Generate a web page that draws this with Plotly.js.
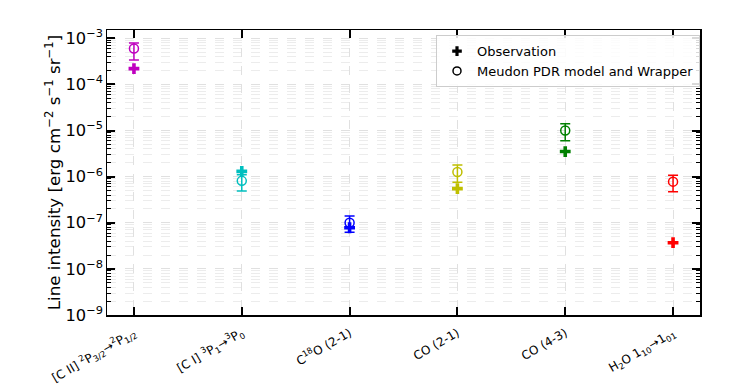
<!DOCTYPE html>
<html>
<head>
<meta charset="utf-8">
<script src="https://cdn.plot.ly/plotly-3.0.1.min.js"></script>
<style>
  html, body { margin: 0; padding: 0; background: #fff; }
  #chart { width: 738px; height: 384px; }
</style>
</head>
<body>
<div id="chart"></div>
<script>
  // Line labels, one per category on the x axis.
  var LINES = [
    "[C II] <sup>2</sup>P<sub>3/2</sub>→<sup>2</sup>P<sub>1/2</sub>",
    "[C I] <sup>3</sup>P<sub>1</sub>→<sup>3</sup>P<sub>0</sub>",
    "C<sup>18</sup>O (2-1)",
    "CO (2-1)",
    "CO (4-3)",
    "H<sub>2</sub>O 1<sub>10</sub>→1<sub>01</sub>"
  ];
  var COLORS = ["#bf00bf", "#00bfbf", "#0000ff", "#bfbf00", "#008000", "#ff0000"];

  // Intensities, erg cm^-2 s^-1 sr^-1.
  var OBS = [2.2e-4, 1.3e-6, 7.8e-8, 5.5e-7, 3.5e-6, 3.7e-8];
  var MODEL = [6.0e-4, 8.1e-7, 1.0e-7, 1.26e-6, 1.0e-5, 7.8e-7];
  var MODEL_HI = [7.9e-4, 1.1e-6, 1.4e-7, 1.78e-6, 1.4e-5, 1.07e-6];
  var MODEL_LO = [3.4e-4, 4.9e-7, 6.2e-8, 7.6e-7, 6.0e-6, 4.7e-7];

  var FONT = "DejaVu Sans, sans-serif";
  var GRID = "#e0e0e0";
  var GRID_MINOR = "#ececec";
  var LABEL_ANGLE = -30;
  var MARGIN = { l: 107, r: 38, t: 30, b: 69 };
  var H = 384;

  var idx = LINES.map(function (_, i) { return i; });
  var traces = [];

  // model points: one trace each so the error bar takes the point colour
  idx.forEach(function (i) {
    traces.push({
      type: "scatter",
      mode: "markers",
      x: [i],
      y: [MODEL[i]],
      showlegend: false,
      marker: { symbol: "circle-open", size: 9, color: COLORS[i], line: { width: 1.5, color: COLORS[i] } },
      error_y: {
        type: "data",
        symmetric: false,
        array: [MODEL_HI[i] - MODEL[i]],
        arrayminus: [MODEL[i] - MODEL_LO[i]],
        color: COLORS[i],
        thickness: 1.5,
        width: 5
      }
    });
  });

  traces.push({
    type: "scatter",
    mode: "markers",
    x: idx,
    y: OBS,
    showlegend: false,
    marker: { symbol: "cross", size: 9, color: COLORS, line: { width: 0 } }
  });

  // legend keys in black (placed off-range so they draw nothing on the plot)
  traces.push({
    type: "scatter", mode: "markers", name: "Observation",
    x: [-5], y: [1e-12],
    marker: { symbol: "cross", size: 8, color: "black" }
  });
  traces.push({
    type: "scatter", mode: "markers", name: "Meudon PDR model and Wrapper",
    x: [-5], y: [1e-12],
    marker: { symbol: "circle-open", size: 8, color: "black", line: { width: 1.5 } }
  });

  var layout = {
    width: 738,
    height: H,
    margin: MARGIN,
    paper_bgcolor: "#fff",
    plot_bgcolor: "#fff",
    font: { family: FONT, color: "#000", size: 12 },
    showlegend: true,
    legend: {
      x: 1, xanchor: "right",
      y: 0.982, yanchor: "top",
      bgcolor: "rgba(255,255,255,0.85)",
      bordercolor: "#cccccc",
      borderwidth: 1,
      font: { family: FONT, size: 13 },
      tracegroupgap: 0,
      itemwidth: 30
    },
    xaxis: {
      range: [-0.25, 5.25],
      tickmode: "array",
      tickvals: idx,
      ticktext: LINES,
      tickangle: LABEL_ANGLE,
      tickfont: { family: FONT, size: 12 },
      ticks: "inside",
      ticklen: 8,
      tickwidth: 2,
      tickcolor: "#000",
      showline: true,
      linecolor: "#000",
      linewidth: 1.5,
      mirror: "allticks",
      showgrid: true,
      gridcolor: GRID,
      griddash: "dash",
      gridwidth: 1,
      zeroline: false
    },
    yaxis: {
      type: "log",
      range: [-9, -2.82],
      dtick: 1,
      exponentformat: "power",
      tickfont: { family: FONT, size: 13 },
      ticks: "inside",
      ticklen: 8,
      tickwidth: 2,
      tickcolor: "#000",
      showline: true,
      linecolor: "#000",
      linewidth: 1.5,
      mirror: "allticks",
      showgrid: true,
      gridcolor: GRID,
      griddash: "dash",
      gridwidth: 1,
      zeroline: false,
      minor: {
        ticks: "inside",
        ticklen: 4,
        tickwidth: 1,
        tickcolor: "#000",
        showgrid: true,
        gridcolor: GRID_MINOR,
        gridwidth: 1
      },
      title: {
        text: "Line intensity [erg cm<sup>−2</sup> s<sup>−1</sup> sr<sup>−1</sup>]",
        font: { family: FONT, size: 16.7 },
        standoff: 0
      }
    }
  };

  var gd = document.getElementById("chart");

  // The x tick labels come out unrotated in this setup, so the rotation is
  // re-applied here (about the label anchor, like plotly does). Runs on timers
  // rather than only on the plot promise, in case that never settles.
  function fixTickLabels() {
    try {
      var yBase = H - MARGIN.b + 21;
      var texts = gd.querySelectorAll(".xtick text");
      Array.prototype.forEach.call(texts, function (t) {
        var x = parseFloat(t.getAttribute("x")) || 0;
        var tr = t.getAttribute("transform") || "";
        var base = tr.replace(/rotate\([^)]*\)/g, "").trim();
        var want = (base + " rotate(" + LABEL_ANGLE + "," + x + "," + (yBase - 6) + ")").trim();
        if (t.getAttribute("y") !== String(yBase)) t.setAttribute("y", yBase);
        if (t.getAttribute("text-anchor") !== "end") t.setAttribute("text-anchor", "end");
        if (tr !== want) t.setAttribute("transform", want);
      });
    } catch (e) { /* leave labels as drawn */ }
  }

  try {
    var p = Plotly.newPlot(gd, traces, layout, { displayModeBar: false, staticPlot: true });
    if (p && p.then) p.then(fixTickLabels, fixTickLabels);
  } catch (e) { /* keep whatever got drawn */ }
  fixTickLabels();
  [0, 30, 100, 250, 500, 1000].forEach(function (ms) { setTimeout(fixTickLabels, ms); });
</script>
</body>
</html>
